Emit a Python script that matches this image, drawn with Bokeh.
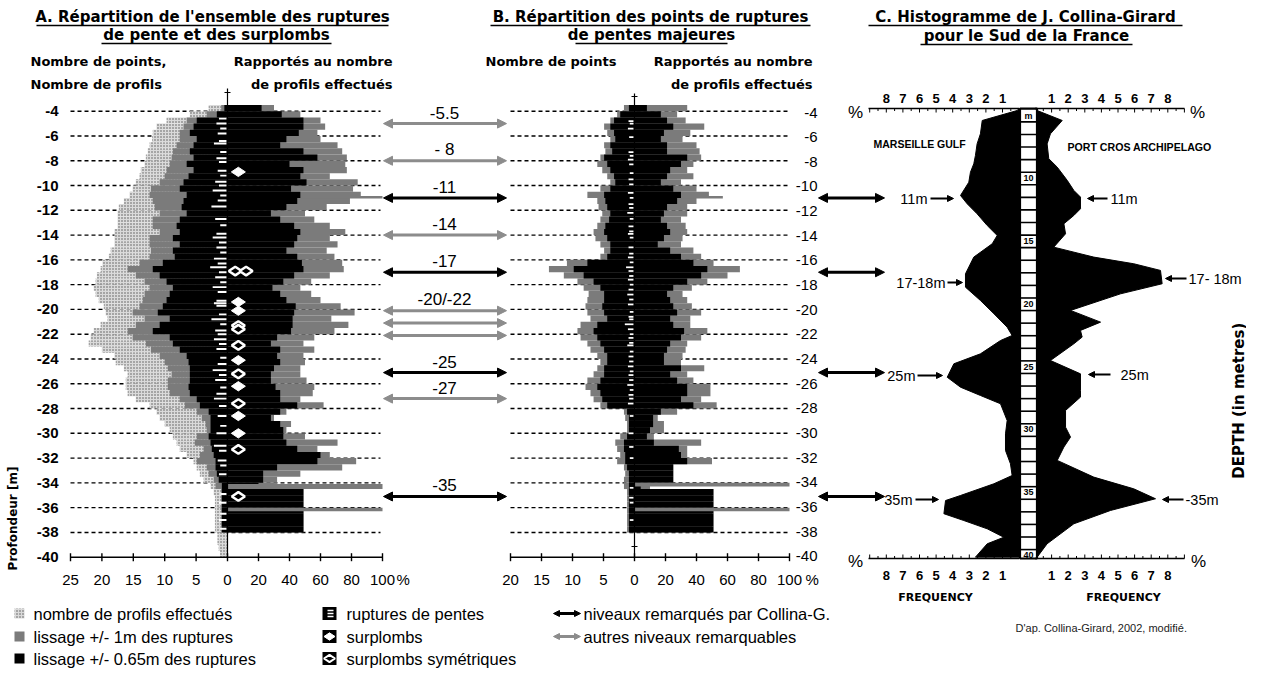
import numpy as np
from bokeh.plotting import figure
from bokeh.models import Range1d, ColumnDataSource, Arrow, NormalHead
from bokeh.core.properties import value
from bokeh.embed import file_html
from bokeh.resources import INLINE

# ======================= DATA =======================
# depth bins (top of each 0.5 m bin), metres
DEPTH_TOP = [-3.5, -4.0, -4.5, -5.0, -5.5, -6.0, -6.5, -7.0, -7.5, -8.0,
             -8.5, -9.0, -9.5, -10.0, -10.5, -11.0, -11.5, -12.0, -12.5, -13.0,
             -13.5, -14.0, -14.5, -15.0, -15.5, -16.0, -16.5, -17.0, -17.5, -18.0,
             -18.5, -19.0, -19.5, -20.0, -20.5, -21.0, -21.5, -22.0, -22.5, -23.0,
             -23.5, -24.0, -24.5, -25.0, -25.5, -26.0, -26.5, -27.0, -27.5, -28.0,
             -28.5, -29.0, -29.5, -30.0, -30.5, -31.0, -31.5, -32.0, -32.5, -33.0,
             -33.5, -34.0, -34.5, -35.0, -35.5, -36.0, -36.5, -37.0, -37.5, -38.0,
             -38.5, -39.0, -39.5]
BIN = 0.5

# Panel A - number of profiles (dotted), counts
A_PROFILES = [3, 6, 9.7, 11.3, 11.9, 12, 12.4, 12.7, 13, 13.2,
              13.8, 14, 14.6, 15.1, 15.6, 16.5, 17.3, 17.5, 17.5, 17.5,
              18, 18, 18, 18.6, 18.9, 19.9, 20.2, 20.8, 21, 21.3,
              21, 20.5, 19.7, 19.4, 19.1, 20.2, 21.3, 21.8, 22.1, 20,
              18, 17.8, 16.5, 15.9, 16.2, 16.2, 15.9, 14.6, 12.4, 11.3,
              10.8, 10, 9.2, 8.7, 8.1, 7.6, 6.5, 5.4, 4.9, 4.4,
              3.8, 2.7, 2.2, 2, 2, 2, 2, 2, 2, 1.6,
              1.6, 1.4, 1.2]
# Panel A - smoothing +/-1 m (grey) and +/-0.65 m (black): counts (left) and % (right)
A_GREY_CNT = [1, 3.3, 6.5, 7, 7.6, 7.6, 8.1, 8.7, 8.9, 9.2,
              9.7, 10, 10.8, 12.2, 12.4, 11.9, 11.6, 10.8, 11.9, 11.9,
              10.8, 12.4, 12.4, 12.2, 12.4, 14, 15.9, 14.6, 13.2, 12.4,
              13.2, 13.5, 14, 15.1, 13.2, 14.6, 15.9, 15.1, 13, 12.2,
              10.8, 10, 9.5, 8.9, 9.5, 9.5, 9.2, 7.6, 6.8, 4.9,
              4.1, 3.5, 3.3, 4.9, 5.2, 3.8, 4.4, 4.9, 3.3, 3,
              2.2, 1.9, 1, 1, 1, 1, 1, 1, 1, 0,
              0, 0, 0]
A_BLACK_CNT = [0.5, 1.7, 4.9, 5.4, 6, 4.9, 5.4, 6, 5.4, 6.5,
               5.4, 6.2, 7, 7.6, 6.5, 7, 7.3, 6.5, 7.6, 8.1,
               7.6, 8.7, 7.6, 8.7, 8.4, 10.3, 11.9, 10.8, 9.7, 8.7,
               9.2, 9.7, 10.3, 11.1, 9.2, 10.8, 11.9, 9.2, 8.7, 7.6,
               6.5, 6.2, 6, 6, 6, 6.2, 6, 4.9, 4.4, 3,
               2.7, 2.7, 2.7, 3, 2.7, 2.5, 2.2, 1.9, 1.9, 1.7,
               1.4, 0.9, 0.9, 0.9, 0.9, 0.9, 0.9, 0.9, 0.9, 0,
               0, 0, 0]
A_GREY_PCT = [30, 47, 60, 63, 58, 60, 71, 74, 77, 76,
              77, 66, 84, 81, 86, 79, 64, 50, 56, 66,
              76, 66, 71, 64, 69, 74, 75, 66, 54, 47,
              54, 60, 73, 82, 67, 78, 69, 56, 49, 56,
              49, 50, 47, 47, 51, 56, 55, 47, 62, 38,
              30, 41, 38, 50, 71, 58, 66, 83, 74, 47,
              32, 30, 49, 49, 49, 49, 49, 49, 49, 0,
              0, 0, 0]
A_BLACK_PCT = [22, 35, 49, 49, 46, 38, 34, 49, 58, 40,
               49, 47, 51, 41, 47, 45, 38, 28, 34, 43,
               47, 45, 43, 38, 45, 48, 49, 43, 36, 29,
               34, 38, 44, 43, 42, 42, 41, 32, 28, 34,
               32, 34, 30, 28, 28, 31, 34, 34, 45, 34,
               28, 34, 36, 36, 38, 45, 60, 58, 32, 23,
               23, 20, 49, 49, 49, 49, 49, 49, 49, 0,
               0, 0, 0]
# thin grey peaks: (top, bottom, %), drawn behind / over the black
A_PEAK_TOP = [-10.85, -34.1, -36.0]
A_PEAK_BOT = [-11.05, -34.5, -36.3]
A_PEAK_PCT = [100, 100, 100]
A_PEAK_OVER = [False, True, True]
# slope breaks (white marks) : depth, length in counts
A_BREAK_DEPTH = [-4.6, -5.0, -5.4, -5.8, -6.4, -6.6, -7.3, -7.8, -8.1, -8.8, -9.2, -9.7, -10.0,
                 -10.4, -10.8, -11.2, -11.7, -12.7, -13.2, -13.9, -14.2, -14.6, -15.0, -15.4,
                 -15.9, -16.3, -16.6, -17.0, -17.4, -17.8, -18.2, -18.6, -19.3, -19.5, -19.7,
                 -20.4, -20.8, -21.2, -21.7, -22.0, -22.4, -22.8, -23.2, -23.9, -24.4, -24.9,
                 -25.3, -25.7, -26.3, -26.8, -27.2, -27.8, -28.6, -29.4, -30.0, -31.0, -31.4,
                 -32.2, -32.6, -33.3, -34.9, -35.6, -36.5, -37.0, -37.7]
A_BREAK_LEN = [1.2, 1.6, 1.0, 1.4, 1.2, 2.0, 1.0, 1.6, 1.2, 1.4, 1.0, 1.8, 1.2,
               2.2, 1.0, 1.4, 2.4, 1.8, 1.0, 1.6, 2.2, 1.2, 1.6, 1.0,
               2.0, 1.4, 2.6, 1.2, 1.8, 1.0, 2.2, 1.4, 1.6, 2.0, 1.6,
               1.2, 2.4, 1.0, 1.8, 1.4, 2.0, 1.2, 1.6, 1.0, 1.4, 2.2,
               1.2, 1.8, 1.0, 1.6, 2.0, 1.2, 1.4, 1.0, 1.6, 2.0, 1.2,
               1.4, 1.0, 1.2, 1.0, 1.2, 1.0, 1.2, 1.0]
# overhangs (surplombs) and symmetric overhangs: depth, position in %
A_OVER_DEPTH = [-8.9, -19.4, -20.1, -24.1, -26.2, -28.6, -30.0]
A_OVER_PCT = [7, 7, 7, 7, 7, 7, 7]
A_SYM_DEPTH = [-16.9, -16.9, -21.3, -21.6, -22.9, -25.2, -27.6, -31.3, -35.1]
A_SYM_PCT = [5, 12, 7, 7, 7, 7, 7, 7, 7]

# Panel B - major slope-break points
B_GREY_CNT = [1.7, 2.8, 3.9, 4.9, 4.4, 3.9, 4.9, 4.7, 5.5, 6,
              5.2, 4.4, 3.9, 5.5, 7.6, 6, 5.8, 5.2, 5.5, 6,
              6.6, 6.3, 5.5, 4.9, 5.5, 10.9, 13.8, 11.4, 9.2, 8.2,
              7.4, 7.6, 7.9, 7.6, 7.1, 8.7, 9.2, 8.7, 7.6, 7.1,
              6, 5.5, 6, 6.6, 7.6, 7.9, 7.1, 6.6, 5.5, 1.7,
              1.5, 1.2, 1.2, 2.3, 3.1, 2.8, 2.3, 2.8, 1.7, 1.5,
              1.7, 1.7, 1.2, 1.2, 1.2, 1.2, 1.2, 1.2, 1.2, 0,
              0, 0, 0]
B_BLACK_CNT = [0.9, 2.3, 3.3, 3.9, 3.3, 3.1, 3.9, 3.6, 4.9, 4.4,
               3.9, 3.3, 3.1, 3.9, 4.9, 4.7, 4.4, 3.9, 4.1, 4.7,
               4.9, 4.4, 3.9, 3.9, 4.4, 7.6, 9.8, 8.2, 6.6, 5.5,
               4.9, 4.9, 5.2, 4.9, 4.4, 6, 6.6, 6, 5.5, 4.9,
               4.4, 4.4, 4.9, 4.9, 5.5, 6, 5.5, 5.2, 4.4, 1.2,
               0.9, 0.9, 0.9, 1.2, 1.7, 1.7, 1.5, 1.5, 1.2, 0.9,
               0.9, 0.9, 0.9, 0.9, 0.9, 0.9, 0.9, 0.9, 0.9, 0,
               0, 0, 0]
B_GREY_PCT = [34, 27.5, 33, 45, 36, 31, 40, 42, 43, 38,
              34, 38, 30, 40, 48, 40, 34, 34, 30, 33,
              34, 31, 30, 38, 43, 51, 68, 60, 47, 37,
              31, 34, 37, 43, 36, 36, 47, 43, 34, 33,
              31, 30, 45, 34, 38, 49, 49, 43, 53, 27.5,
              15, 19, 19, 12.5, 43, 34, 34, 50, 25, 25,
              25, 10, 50, 50, 50, 50, 50, 50, 50, 0,
              0, 0, 0]
B_BLACK_PCT = [8, 17, 21, 25, 19, 17, 21, 21, 34, 30,
               23, 21, 17, 25, 30, 27.5, 21, 19, 17, 21,
               23, 19, 15, 23, 30, 38, 47, 43, 34, 25,
               21, 23, 25, 27.5, 23, 25, 32, 30, 23, 21,
               19, 19, 30, 23, 27.5, 34, 34, 30, 38, 17,
               12, 12, 10, 8, 12.5, 28.6, 30, 34, 25, 25,
               25, 4, 51, 51, 51, 51, 51, 51, 51, 0,
               0, 0, 0]
B_PEAK_TOP = [-10.85, -34.0, -36.0]
B_PEAK_BOT = [-11.05, -34.3, -36.3]
B_PEAK_PCT = [57, 100, 100]
B_PEAK_OVER = [False, True, True]
B_BREAK_DEPTH = [-4.8, -5.0, -5.4, -6.1, -7.3, -7.6, -7.9, -8.3, -9.0, -9.5, -9.9, -10.6,
                 -11.0, -11.5, -11.8, -12.2, -12.7, -13.3, -13.7, -13.9, -14.2, -15.0, -15.5,
                 -15.8, -16.2, -16.6, -16.9, -17.3, -17.6, -18.0, -18.4, -18.8, -19.2, -19.6,
                 -20.2, -20.6, -20.8, -21.2, -21.6, -22.0, -22.3, -22.7, -22.9, -23.4, -23.8,
                 -24.2, -24.6, -25.0, -25.3, -25.7, -26.1, -26.5, -26.9, -27.2, -27.6, -28.6,
                 -30.0, -31.1, -32.0, -34.4, -35.2, -35.6, -37.0]
B_BREAK_LEN = [0.8, 0.6, 0.9, 0.7, 0.8, 0.6, 0.9, 0.7, 0.6, 0.8, 0.7, 0.9,
               0.6, 0.8, 0.7, 1.0, 0.6, 0.8, 0.7, 0.9, 0.6, 0.8, 0.7,
               0.9, 0.6, 1.2, 0.8, 0.7, 0.9, 0.6, 0.8, 1.0, 0.7, 0.9,
               0.6, 0.8, 0.7, 1.4, 0.9, 0.6, 0.8, 0.7, 1.0, 0.6, 0.8,
               0.7, 0.9, 0.6, 0.8, 0.7, 1.0, 0.6, 0.8, 0.7, 0.9, 0.6,
               0.8, 0.7, 0.6, 0.6, 0.7, 0.6, 0.6]

# levels between A and B
LEVEL_DEPTH = [-5.0, -8.0, -11.0, -14.0, -17.0, -20.1, -21.1, -22.1, -25.1, -27.2, -35.1]
LEVEL_COLLINA = [False, False, True, False, True, False, False, False, True, False, True]
LEVEL_LABEL = ["-5.5", "- 8", "-11", "-14", "-17", "-20/-22", "", "", "-25", "-27", "-35"]
# levels carried to panel C
C_LEVEL_DEPTH = [-11.0, -17.0, -25.1, -35.1]

# Panel C - Collina-Girard histogram (depth m, frequency %)
C_MARSEILLE_D = [4.55, 5.34, 6.4, 7.2, 8.12, 8.78, 9.45, 10.25, 11.3, 11.96, 12.76, 13.69, 14.48,
                 15.14, 16.2, 17.53, 18.59, 19.65, 20.7, 21.77, 22.43, 22.83, 23.89, 24.68, 25.75,
                 26.54, 27.2, 27.86, 29.19, 30.25, 31.57, 32.63, 33.56, 34.22, 35.15, 35.55, 36.6,
                 37.14, 37.8, 38.47, 38.99, 40.05]
C_MARSEILLE_F = [0.12, 2.22, 2.33, 2.53, 2.63, 2.73, 2.93, 3.03, 3.53, 3.13, 2.53, 1.92, 1.32,
                 1.62, 2.73, 3.23, 3.23, 2.33, 1.52, 0.72, 0.42, 1.12, 2.33, 3.93, 4.33,
                 3.53, 2.33, 1.12, 0.72, 0.82, 0.82, 0.52, 0.42, 1.52, 3.53, 4.43, 4.53,
                 3.33, 1.92, 0.92, 1.92, 2.63]
C_PORTCROS_D = [4.55, 5.34, 6.4, 7.2, 8.38, 9.05, 10.1, 10.9, 11.43, 12.36,
                12.89, 13.55, 14.35, 15.41, 16.2, 16.73, 17.26, 18.32, 19.12, 20.44,
                21.37, 22.03, 22.56, 23.09, 24.42, 25.48, 26.8, 27.33, 28.39, 29.72,
                30.51, 31.3, 32.36, 33.69, 34.62, 35.41, 36.34, 37.4, 38.99, 40.05]
C_PORTCROS_F = [0.13, 1.64, 0.93, 0.73, 0.83, 1.34, 1.94, 2.34, 2.74, 2.74,
                2.34, 1.74, 1.84, 1.13, 3.54, 5.95, 7.56, 7.66, 5.15, 2.14,
                3.95, 2.74, 2.84, 2.34, 0.93, 2.74, 2.74, 2.74, 1.84, 1.84,
                2.14, 1.74, 1.34, 3.54, 5.95, 7.26, 4.55, 2.34, 0.73, 0.13]

# tick labels
DEPTH_TICKS = [-4, -6, -8, -10, -12, -14, -16, -18, -20, -22, -24, -26, -28, -30, -32, -34, -36, -38, -40]
A_CNT_TICKS = [25, 20, 15, 10, 5]
B_CNT_TICKS = [20, 15, 10, 5]
PCT_TICKS = [0, 20, 40, 60, 80, 100]
C_FREQ_TICKS = [1, 2, 3, 4, 5, 6, 7, 8]
C_RULER_LABELS = ["m", "10", "15", "20", "25", "30", "35", "40"]
C_RULER_LABEL_D = [4.95, 9.9, 14.9, 19.9, 24.9, 29.9, 34.9, 39.9]

LEGEND_A = ["nombre de profils effectués", "lissage +/- 1m des ruptures", "lissage +/- 0.65m des ruptures"]
LEGEND_B = ["ruptures de pentes", "surplombs", "surplombs symétriques"]
LEGEND_C = ["niveaux remarqués par Collina-G.", "autres niveaux remarquables"]

# ======================= LAYOUT =======================
W, H, M = 1246, 668, 0
PX_PER_M = 12.389
Y_AT_M4 = 110.7


def Y(py):
    return -4.0 - (np.asarray(py, dtype=float) - Y_AT_M4) / PX_PER_M


def PXM(px):
    return px / PX_PER_M


A0, A_CNT, A_PCT = 227.0, 6.28, 1.55
B0, B_CNT, B_PCT = 634.0, 6.2, 1.55
C_L0, C_R0, C_SC = 1018.6, 1034.5, 16.6
C_PX_PER_M, C_Y40 = 12.58, 556.0


def CY(D):
    return Y(C_Y40 - (40.0 - np.asarray(D, dtype=float)) * C_PX_PER_M)


SANS = "Liberation Sans"
NARROW = "Liberation Sans Narrow, Liberation Sans"
HEAVY = "DejaVu Sans"
GREY = "#7b7b7b"
AGREY = "#8c8c8c"

p = figure(width=W, height=H, x_range=Range1d(M, M + W), y_range=Range1d(float(Y(M + H)), float(Y(M))),
           output_backend="svg", toolbar_location=None, x_axis_location=None, y_axis_location=None,
           min_border=0, outline_line_color=None, background_fill_color="white", border_fill_color="white")
p.grid.visible = False


def T(x, py, s, size, font=SANS, bold=False, align="left", color="black", angle=0.0):
    ss = s if isinstance(s, list) else [s]
    n = len(ss)
    xs = list(x) if isinstance(x, (list, np.ndarray)) else [x] * n
    ys = list(np.atleast_1d(Y(py)))
    if len(ys) == 1:
        ys = ys * n
    p.text(x=xs, y=ys, text=ss, text_font=value(font), text_font_size=f"{size}px",
           text_font_style="bold" if bold else "normal", text_align=align, text_baseline="middle",
           text_color=color, angle=angle)


top = np.array(DEPTH_TOP)
bot = top - BIN

# ---------------- titles ----------------
TITLES = [("A. Répartition de l'ensemble des ruptures", 212, 16, 176),
          ("de pente et des surplombs", 216, 34, 115),
          ("B. Répartition des points de ruptures", 650, 16, 160),
          ("de pentes majeures", 651, 34, 76),
          ("C. Histogramme de J. Collina-Girard", 1025, 16, 157),
          ("pour le Sud de la France", 1026, 35, 106)]
for s, xc, py, hw in TITLES:
    T(xc, py, s, 15, font=HEAVY, bold=True, align="center")
    p.segment(x0=[xc - hw], x1=[xc + hw], y0=[float(Y(py + 9))], y1=[float(Y(py + 9))],
              line_color="black", line_width=1.6)

T(30, 61, "Nombre de points,", 13, font=HEAVY, bold=True)
T(30, 84, "Nombre de profils", 13, font=HEAVY, bold=True)
T(392, 61, "Rapportés au nombre", 13, font=HEAVY, bold=True, align="right")
T(392, 84, "de profils effectués", 13, font=HEAVY, bold=True, align="right")
T(485, 61, "Nombre de points", 13, font=HEAVY, bold=True)
T(812, 61, "Rapportés au nombre", 13, font=HEAVY, bold=True, align="right")
T(812, 84, "de profils effectués", 13, font=HEAVY, bold=True, align="right")

# ---------------- dashed depth lines ----------------
grid_d = [d for d in DEPTH_TICKS if d > -40]
p.segment(x0=[70] * len(grid_d), x1=[380] * len(grid_d), y0=grid_d, y1=grid_d,
          line_color="black", line_width=1.4, line_dash="4 3")
p.segment(x0=[510] * len(grid_d), x1=[790] * len(grid_d), y0=grid_d, y1=grid_d,
          line_color="black", line_width=1.4, line_dash="4 3")

# ---------------- panel A ----------------
p.quad(left=A0 - np.array(A_PROFILES) * A_CNT, right=A0, top=top, bottom=bot,
       fill_color="#dadada", line_color=None, hatch_pattern=".", hatch_color="#555555",
       hatch_scale=3, hatch_weight=1)
p.quad(left=A0 - np.array(A_GREY_CNT) * A_CNT, right=A0 + np.array(A_GREY_PCT) * A_PCT,
       top=top, bottom=bot, fill_color=GREY, line_color=None)
for t, b, v, over in zip(A_PEAK_TOP, A_PEAK_BOT, A_PEAK_PCT, A_PEAK_OVER):
    if not over:
        p.quad(left=[A0], right=[A0 + v * A_PCT], top=[t], bottom=[b], fill_color=GREY, line_color=None)
p.quad(left=A0 - np.array(A_BLACK_CNT) * A_CNT, right=A0 + np.array(A_BLACK_PCT) * A_PCT,
       top=top, bottom=bot, fill_color="black", line_color=None)
for t, b, v, over in zip(A_PEAK_TOP, A_PEAK_BOT, A_PEAK_PCT, A_PEAK_OVER):
    if over:
        p.quad(left=[A0], right=[A0 + v * A_PCT], top=[t], bottom=[b], fill_color=GREY, line_color=None)
ad = np.array(A_BREAK_DEPTH)
p.quad(left=A0 - 1 - np.array(A_BREAK_LEN) * A_CNT, right=A0 - 1, top=ad + 0.08, bottom=ad - 0.08,
       fill_color="white", line_color=None)
p.scatter(x=A0 + np.array(A_OVER_PCT) * A_PCT, y=A_OVER_DEPTH, marker="diamond", size=14,
          angle=np.pi / 2, fill_color="white", line_color="white", line_width=1)
p.scatter(x=A0 + np.array(A_SYM_PCT) * A_PCT, y=A_SYM_DEPTH, marker="diamond", size=13,
          angle=np.pi / 2, fill_color="black", line_color="white", line_width=2.5)

# axes A
p.segment(x0=[A0], x1=[A0], y0=[-40], y1=[float(Y(88))], line_color="black", line_width=1.2)
p.segment(x0=[A0 - 3], x1=[A0 + 3], y0=[float(Y(92))], y1=[float(Y(92))], line_color="black", line_width=1)
p.segment(x0=[A0 - 25 * A_CNT], x1=[A0 + 100 * A_PCT], y0=[-40], y1=[-40], line_color="black", line_width=1.6)
a_tx = [A0 - v * A_CNT for v in A_CNT_TICKS] + [A0 + v * A_PCT for v in PCT_TICKS]
a_tl = [str(v) for v in A_CNT_TICKS] + [str(v) for v in PCT_TICKS]
p.segment(x0=a_tx, x1=a_tx, y0=[-40 + PXM(4)] * len(a_tx), y1=[-40 - PXM(4)] * len(a_tx),
          line_color="black", line_width=1.4)
T(a_tx, 579, a_tl, 15, align="center")
T(A0 + 100 * A_PCT + 14, 579, "%", 15)
T([58] * len(DEPTH_TICKS), list(110.7 + (-4 - np.array(DEPTH_TICKS)) * PX_PER_M),
  [str(d) for d in DEPTH_TICKS], 15, bold=True, align="right")
T(12, 518, "Profondeur [m]", 12, font=HEAVY, bold=True, align="center", angle=np.pi / 2)

# ---------------- panel B ----------------
p.quad(left=B0 - np.array(B_GREY_CNT) * B_CNT, right=B0 + np.array(B_GREY_PCT) * B_PCT,
       top=top, bottom=bot, fill_color=GREY, line_color=None)
for t, b, v, over in zip(B_PEAK_TOP, B_PEAK_BOT, B_PEAK_PCT, B_PEAK_OVER):
    if not over:
        p.quad(left=[B0], right=[B0 + v * B_PCT], top=[t], bottom=[b], fill_color=GREY, line_color=None)
p.quad(left=B0 - np.array(B_BLACK_CNT) * B_CNT, right=B0 + np.array(B_BLACK_PCT) * B_PCT,
       top=top, bottom=bot, fill_color="black", line_color=None)
for t, b, v, over in zip(B_PEAK_TOP, B_PEAK_BOT, B_PEAK_PCT, B_PEAK_OVER):
    if over:
        p.quad(left=[B0], right=[B0 + v * B_PCT], top=[t], bottom=[b], fill_color=GREY, line_color=None)
bd = np.array(B_BREAK_DEPTH)
p.quad(left=B0 - 1 - np.array(B_BREAK_LEN) * B_CNT, right=B0 - 1, top=bd + 0.07, bottom=bd - 0.07,
       fill_color="white", line_color=None)

p.segment(x0=[B0], x1=[B0], y0=[-40], y1=[float(Y(93))], line_color="black", line_width=1.2)
p.segment(x0=[B0 - 3, B0 - 3], x1=[B0 + 3, B0 + 3], y0=[float(Y(96)), float(Y(546))],
          y1=[float(Y(96)), float(Y(546))], line_color="black", line_width=1)
p.segment(x0=[B0 - 20 * B_CNT], x1=[B0 + 100 * B_PCT], y0=[-40], y1=[-40], line_color="black", line_width=1.6)
b_tx = [B0 - v * B_CNT for v in B_CNT_TICKS] + [B0 + v * B_PCT for v in PCT_TICKS]
b_tl = [str(v) for v in B_CNT_TICKS] + [str(v) for v in PCT_TICKS]
p.segment(x0=b_tx, x1=b_tx, y0=[-40 + PXM(4)] * len(b_tx), y1=[-40 - PXM(4)] * len(b_tx),
          line_color="black", line_width=1.4)
T(b_tx, 579, b_tl, 15, align="center")
T(B0 + 100 * B_PCT + 16, 579, "%", 15)
T([817] * len(DEPTH_TICKS), list(112 + (-4 - np.array(DEPTH_TICKS)) * 12.33),
  [str(d) for d in DEPTH_TICKS], 15, align="right")


# ---------------- arrows ----------------
def arrows(x0, x1, ys, color, lw, size, start=True):
    src = ColumnDataSource(dict(xs=[x0] * len(ys), xe=[x1] * len(ys), y=list(ys)))
    sh = NormalHead(size=size, fill_color=color, line_color=color, line_width=1) if start else None
    eh = NormalHead(size=size, fill_color=color, line_color=color, line_width=1)
    p.add_layout(Arrow(start=sh, end=eh, x_start="xs", y_start="y", x_end="xe", y_end="y",
                       source=src, line_color=color, line_width=lw))


col_d = [d for d, c in zip(LEVEL_DEPTH, LEVEL_COLLINA) if c]
oth_d = [d for d, c in zip(LEVEL_DEPTH, LEVEL_COLLINA) if not c]
arrows(383, 506, oth_d, AGREY, 3, 9)
arrows(383, 506, col_d, "black", 3, 9)
lab = [(s, d) for s, d in zip(LEVEL_LABEL, LEVEL_DEPTH) if s]
p.text(x=[444] * len(lab), y=[d + PXM(11) for s, d in lab], text=[s for s, d in lab],
       text_font=value(SANS), text_font_size="17px", text_align="center", text_baseline="middle")
arrows(818, 884, C_LEVEL_DEPTH, "black", 3, 9)

# ---------------- panel C ----------------
ml = [C_L0] + [C_L0 - f * C_SC for f in C_MARSEILLE_F] + [C_L0]
ml_y = [float(CY(4.39))] + list(CY(C_MARSEILLE_D)) + [float(CY(40.05))]
p.patch(x=ml, y=ml_y, fill_color="black", line_color="black", line_width=1)
pr = [C_R0] + [C_R0 + f * C_SC for f in C_PORTCROS_F] + [C_R0]
pr_y = [float(CY(4.39))] + list(CY(C_PORTCROS_D)) + [float(CY(40.05))]
p.patch(x=pr, y=pr_y, fill_color="black", line_color="black", line_width=1)

# ruler
p.quad(left=[1019.5], right=[1036.5], top=[float(CY(4.39))], bottom=[float(CY(40.16))],
       fill_color="white", line_color="black", line_width=2.2)
rl = [k + 0.45 for k in range(5, 40)]
p.segment(x0=[1019.5] * len(rl), x1=[1036.5] * len(rl), y0=list(CY(rl)), y1=list(CY(rl)),
          line_color="black", line_width=1.6)
p.text(x=[1028] * len(C_RULER_LABELS), y=list(CY(C_RULER_LABEL_D)), text=C_RULER_LABELS,
       text_font=value(NARROW), text_font_size="9px", text_font_style="bold", text_align="center",
       text_baseline="middle")

# C axes
yt, yb = float(CY(4.39)), float(CY(40.16))
for yy, sgn, lab_py in [(yt, -1, 98), (yb, 1, 575)]:
    p.segment(x0=[868, C_R0], x1=[C_L0, 1184], y0=[yy, yy], y1=[yy, yy], line_color="black", line_width=1.4)
    halves = [0.5 * k for k in range(1, 19)]
    xl = [C_L0 - h * C_SC for h in halves] + [C_R0 + h * C_SC for h in halves]
    ln = [(4 if float(h).is_integer() else 2.5) for h in halves] * 2
    p.segment(x0=xl, x1=xl, y0=[yy] * len(xl), y1=[yy + sgn * PXM(l) for l in ln],
              line_color="black", line_width=1)
    tx = [C_L0 - v * C_SC for v in C_FREQ_TICKS] + [C_R0 + v * C_SC for v in C_FREQ_TICKS]
    T(tx, lab_py, [str(v) for v in C_FREQ_TICKS] * 2, 13, font=NARROW, bold=True, align="center")
T([855, 1197], 112, ["%", "%"], 17, font=NARROW, align="center")
T([855, 1198], 561, ["%", "%"], 17, font=NARROW, align="center")
T([935, 1123], 597, ["FREQUENCY", "FREQUENCY"], 11, font=HEAVY, bold=True, align="center")
T(873, 143, "MARSEILLE GULF", 10.5, bold=True)
T(1067, 146, "PORT CROS ARCHIPELAGO", 10.6, bold=True)
T(1238, 395, "DEPTH  (in  metres)", 15, font=HEAVY, bold=True, align="center", angle=np.pi / 2)

# C side annotations
C_LEFT_NOTES = [("11m", 927, 930, 953, 198), ("17-18m", 945, 947, 962, 282),
                ("25m", 915, 917, 942, 375), ("35m", 912, 915, 938, 499)]
C_RIGHT_NOTES = [("11m", 1110, 1087, 1107, 198), ("17- 18m", 1188, 1165, 1186, 278),
                 ("25m", 1120, 1088, 1110, 374), ("-35m", 1185, 1162, 1183, 499)]
for s, xt, xa0, xa1, py in C_LEFT_NOTES:
    T(xt, py, s, 14.5, font=NARROW, align="right")
    arrows(xa0, xa1, [float(Y(py))], "black", 2, 6, start=False)
for s, xt, xa0, xa1, py in C_RIGHT_NOTES:
    T(xt, py, s, 14.5, font=NARROW, align="left")
    arrows(xa1, xa0, [float(Y(py))], "black", 2, 6, start=False)

T(1015, 627, "D'ap. Collina-Girard, 2002, modifié.", 11, color="#222222")

# ---------------- legend ----------------
LEG_ROWS = [613, 636, 658]


def box(x0, x1, py, hh, **kw):
    p.quad(left=[x0], right=[x1], top=[float(Y(py - hh))], bottom=[float(Y(py + hh))], **kw)


box(14, 24, LEG_ROWS[0], 5, fill_color="#dadada", line_color=None, hatch_pattern=".",
    hatch_color="#555555", hatch_scale=3, hatch_weight=1)
box(14, 24, LEG_ROWS[1], 5, fill_color=GREY, line_color=None)
box(14, 24, LEG_ROWS[2], 5, fill_color="black", line_color=None)
T([33, 33, 33], LEG_ROWS, LEGEND_A, 16.5)
for py in LEG_ROWS:
    box(322, 336, py, 6.5, fill_color="black", line_color=None)
r0 = LEG_ROWS[0]
p.segment(x0=[327, 327, 327], x1=[333, 333, 333],
          y0=[float(Y(r0 - 3)), float(Y(r0)), float(Y(r0 + 3))],
          y1=[float(Y(r0 - 3)), float(Y(r0)), float(Y(r0 + 3))],
          line_color="white", line_width=1.5)
p.scatter(x=[329], y=[float(Y(LEG_ROWS[1]))], marker="diamond", size=11, angle=np.pi / 2,
          fill_color="white", line_color="white")
p.scatter(x=[329], y=[float(Y(LEG_ROWS[2]))], marker="diamond", size=11, angle=np.pi / 2,
          fill_color="black", line_color="white", line_width=2)
T([346, 346, 346], LEG_ROWS, LEGEND_B, 16.5)
arrows(553, 580, [float(Y(LEG_ROWS[0]))], "black", 3, 6)
arrows(553, 580, [float(Y(LEG_ROWS[1]))], AGREY, 3, 6)
T([583, 583], LEG_ROWS[:2], LEGEND_C, 16.5)

open("out.html", "w").write(file_html(p, INLINE))
